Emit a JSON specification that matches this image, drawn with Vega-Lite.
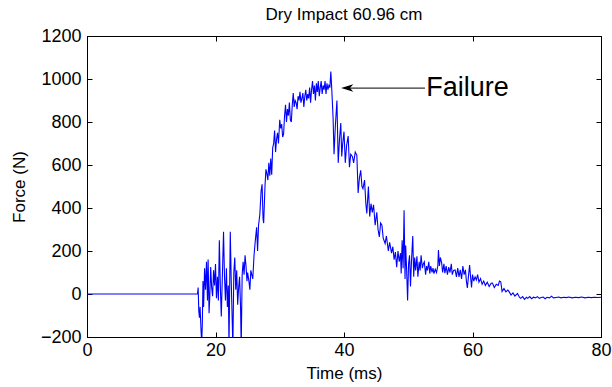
{
  "$schema": "https://vega.github.io/schema/vega-lite/v6.json",
  "width": 514,
  "height": 301,
  "autosize": "none",
  "padding": {"left": 87, "top": 36, "right": 11, "bottom": 50},
  "background": "white",
  "config": {
    "view": {"stroke": "black", "strokeWidth": 1},
    "font": "Liberation Sans",
    "axis": {
      "domainColor": "black",
      "tickColor": "black",
      "labelColor": "black",
      "titleColor": "black",
      "labelFont": "Liberation Sans",
      "titleFont": "Liberation Sans",
      "labelFontSize": 18,
      "titleFontSize": 17,
      "titleFontWeight": "normal",
      "grid": false,
      "tickSize": -5,
      "labelFlush": false,
      "format": "d"
    }
  },
  "title": {"text": "Dry Impact 60.96 cm", "fontSize": 17, "font": "Liberation Sans", "fontWeight": "normal", "color": "black", "offset": 3},
  "datasets": {
    "sig": [
      {"t": 0, "f": 0}, {"t": 17.2, "f": 0},
      {"t": 17.3, "f": 30}, {"t": 17.4, "f": -80}, {"t": 17.5, "f": -110}, {"t": 17.6, "f": -60}, {"t": 17.75, "f": -170}, {"t": 17.85, "f": -230}, {"t": 17.95, "f": -140},
      {"t": 18.05, "f": 60}, {"t": 18.15, "f": -60}, {"t": 18.3, "f": 120}, {"t": 18.45, "f": 20}, {"t": 18.6, "f": 150}, {"t": 18.75, "f": -30}, {"t": 18.85, "f": 160},
      {"t": 19.0, "f": -90}, {"t": 19.1, "f": -20}, {"t": 19.25, "f": 125}, {"t": 19.4, "f": 30}, {"t": 19.55, "f": -10}, {"t": 19.7, "f": 110}, {"t": 19.85, "f": 40},
      {"t": 20.0, "f": 140}, {"t": 20.15, "f": -20}, {"t": 20.3, "f": 80}, {"t": 20.45, "f": -30}, {"t": 20.6, "f": 250}, {"t": 20.75, "f": 40}, {"t": 20.9, "f": -105},
      {"t": 21.05, "f": 60}, {"t": 21.25, "f": 290}, {"t": 21.4, "f": 80}, {"t": 21.55, "f": -30}, {"t": 21.7, "f": 120}, {"t": 21.85, "f": -60},
      {"t": 22.0, "f": 40}, {"t": 22.1, "f": -250}, {"t": 22.3, "f": 290}, {"t": 22.45, "f": 60}, {"t": 22.6, "f": -120}, {"t": 22.7, "f": -250}, {"t": 22.85, "f": 100},
      {"t": 23.0, "f": 170}, {"t": 23.15, "f": 20}, {"t": 23.3, "f": 110}, {"t": 23.45, "f": -50}, {"t": 23.6, "f": 30}, {"t": 23.75, "f": 80}, {"t": 23.9, "f": -60},
      {"t": 24.0, "f": -250}, {"t": 24.15, "f": 90}, {"t": 24.3, "f": 150}, {"t": 24.45, "f": 90}, {"t": 24.6, "f": 180}, {"t": 24.75, "f": 130}, {"t": 24.9, "f": 60},
      {"t": 25.0, "f": 100}, {"t": 25.2, "f": 60}, {"t": 25.35, "f": 20}, {"t": 25.5, "f": 110}, {"t": 25.65, "f": 90}, {"t": 25.8, "f": 70},
      {"t": 26.0, "f": 180}, {"t": 26.2, "f": 250}, {"t": 26.4, "f": 310}, {"t": 26.55, "f": 200}, {"t": 26.7, "f": 320}, {"t": 26.9, "f": 370},
      {"t": 27.1, "f": 480}, {"t": 27.25, "f": 510}, {"t": 27.4, "f": 350}, {"t": 27.5, "f": 330}, {"t": 27.7, "f": 500}, {"t": 27.85, "f": 580},
      {"t": 28.0, "f": 560}, {"t": 28.15, "f": 530}, {"t": 28.3, "f": 610}, {"t": 28.45, "f": 550}, {"t": 28.6, "f": 630}, {"t": 28.75, "f": 555}, {"t": 28.9, "f": 680},
      {"t": 29.05, "f": 700}, {"t": 29.2, "f": 760}, {"t": 29.35, "f": 660}, {"t": 29.5, "f": 720}, {"t": 29.65, "f": 750}, {"t": 29.8, "f": 700},
      {"t": 30.0, "f": 810}, {"t": 30.15, "f": 770}, {"t": 30.3, "f": 790}, {"t": 30.45, "f": 730}, {"t": 30.6, "f": 745}, {"t": 30.75, "f": 830}, {"t": 30.9, "f": 880},
      {"t": 31.05, "f": 800}, {"t": 31.2, "f": 860}, {"t": 31.35, "f": 830}, {"t": 31.5, "f": 890}, {"t": 31.65, "f": 810}, {"t": 31.8, "f": 800}, {"t": 31.95, "f": 880},
      {"t": 32.1, "f": 935}, {"t": 32.25, "f": 870}, {"t": 32.4, "f": 900}, {"t": 32.55, "f": 890}, {"t": 32.7, "f": 860}, {"t": 32.85, "f": 920},
      {"t": 33.0, "f": 900}, {"t": 33.15, "f": 940}, {"t": 33.3, "f": 890}, {"t": 33.45, "f": 910}, {"t": 33.6, "f": 935}, {"t": 33.75, "f": 870}, {"t": 33.9, "f": 920},
      {"t": 34.05, "f": 950}, {"t": 34.2, "f": 900}, {"t": 34.35, "f": 930}, {"t": 34.5, "f": 910}, {"t": 34.65, "f": 960}, {"t": 34.8, "f": 890}, {"t": 34.95, "f": 950},
      {"t": 35.1, "f": 990}, {"t": 35.25, "f": 930}, {"t": 35.4, "f": 970}, {"t": 35.55, "f": 900}, {"t": 35.7, "f": 980}, {"t": 35.85, "f": 940},
      {"t": 36.0, "f": 990}, {"t": 36.15, "f": 920}, {"t": 36.3, "f": 960}, {"t": 36.45, "f": 990}, {"t": 36.6, "f": 930}, {"t": 36.75, "f": 970}, {"t": 36.9, "f": 950},
      {"t": 37.05, "f": 990}, {"t": 37.2, "f": 930}, {"t": 37.35, "f": 980}, {"t": 37.5, "f": 950}, {"t": 37.65, "f": 970}, {"t": 37.8, "f": 960}, {"t": 37.95, "f": 1035},
      {"t": 38.1, "f": 950}, {"t": 38.3, "f": 820}, {"t": 38.45, "f": 650}, {"t": 38.65, "f": 780}, {"t": 38.9, "f": 900},
      {"t": 39.1, "f": 610}, {"t": 39.3, "f": 720}, {"t": 39.5, "f": 795}, {"t": 39.65, "f": 640}, {"t": 39.8, "f": 700},
      {"t": 40.0, "f": 755}, {"t": 40.2, "f": 610}, {"t": 40.4, "f": 690}, {"t": 40.65, "f": 735}, {"t": 40.85, "f": 590},
      {"t": 41.05, "f": 650}, {"t": 41.3, "f": 640}, {"t": 41.5, "f": 610}, {"t": 41.75, "f": 660},
      {"t": 42.0, "f": 645}, {"t": 42.2, "f": 470}, {"t": 42.4, "f": 540}, {"t": 42.6, "f": 575}, {"t": 42.8, "f": 500}, {"t": 42.95, "f": 490},
      {"t": 43.2, "f": 530}, {"t": 43.4, "f": 420}, {"t": 43.55, "f": 375}, {"t": 43.8, "f": 500},
      {"t": 44.0, "f": 360}, {"t": 44.2, "f": 420}, {"t": 44.4, "f": 380}, {"t": 44.6, "f": 415}, {"t": 44.85, "f": 320},
      {"t": 45.1, "f": 380}, {"t": 45.3, "f": 300}, {"t": 45.5, "f": 265}, {"t": 45.7, "f": 330}, {"t": 45.9, "f": 320},
      {"t": 46.1, "f": 260}, {"t": 46.4, "f": 235}, {"t": 46.6, "f": 270}, {"t": 46.9, "f": 200},
      {"t": 47.1, "f": 240}, {"t": 47.4, "f": 190}, {"t": 47.6, "f": 220}, {"t": 47.8, "f": 160},
      {"t": 48.0, "f": 195}, {"t": 48.2, "f": 125}, {"t": 48.4, "f": 200}, {"t": 48.6, "f": 150}, {"t": 48.8, "f": 190}, {"t": 48.9, "f": 95},
      {"t": 49.05, "f": 250}, {"t": 49.2, "f": 120}, {"t": 49.35, "f": 390}, {"t": 49.5, "f": 70}, {"t": 49.6, "f": 225}, {"t": 49.75, "f": 110}, {"t": 49.9, "f": -30},
      {"t": 50.05, "f": 140}, {"t": 50.2, "f": 180}, {"t": 50.35, "f": 35}, {"t": 50.5, "f": 150}, {"t": 50.7, "f": 270}, {"t": 50.85, "f": 80},
      {"t": 51.0, "f": 170}, {"t": 51.15, "f": 110}, {"t": 51.35, "f": 175}, {"t": 51.5, "f": 80}, {"t": 51.7, "f": 150}, {"t": 51.85, "f": 110},
      {"t": 52.0, "f": 180}, {"t": 52.2, "f": 120}, {"t": 52.35, "f": 140}, {"t": 52.5, "f": 150}, {"t": 52.7, "f": 90}, {"t": 52.85, "f": 130},
      {"t": 53.0, "f": 110}, {"t": 53.2, "f": 150}, {"t": 53.35, "f": 95}, {"t": 53.5, "f": 130}, {"t": 53.7, "f": 100}, {"t": 53.85, "f": 120},
      {"t": 54.0, "f": 95}, {"t": 54.2, "f": 115}, {"t": 54.4, "f": 100}, {"t": 54.6, "f": 130}, {"t": 54.7, "f": 205}, {"t": 54.85, "f": 130},
      {"t": 55.0, "f": 170}, {"t": 55.2, "f": 145}, {"t": 55.35, "f": 100}, {"t": 55.55, "f": 140}, {"t": 55.7, "f": 97}, {"t": 55.9, "f": 130},
      {"t": 56.1, "f": 90}, {"t": 56.3, "f": 125}, {"t": 56.5, "f": 100}, {"t": 56.7, "f": 140}, {"t": 56.85, "f": 90},
      {"t": 57.05, "f": 110}, {"t": 57.3, "f": 112}, {"t": 57.5, "f": 80}, {"t": 57.7, "f": 120}, {"t": 57.9, "f": 80},
      {"t": 58.1, "f": 112}, {"t": 58.3, "f": 70}, {"t": 58.5, "f": 130}, {"t": 58.7, "f": 90}, {"t": 58.9, "f": 112},
      {"t": 59.05, "f": 60}, {"t": 59.2, "f": 28}, {"t": 59.4, "f": 90}, {"t": 59.55, "f": 135}, {"t": 59.7, "f": 80}, {"t": 59.85, "f": 30},
      {"t": 60.0, "f": 90}, {"t": 60.2, "f": 60}, {"t": 60.4, "f": 80}, {"t": 60.6, "f": 65}, {"t": 60.8, "f": 90},
      {"t": 61.0, "f": 55}, {"t": 61.25, "f": 72}, {"t": 61.5, "f": 45}, {"t": 61.75, "f": 60},
      {"t": 62.0, "f": 40}, {"t": 62.3, "f": 55}, {"t": 62.6, "f": 35}, {"t": 62.9, "f": 50},
      {"t": 63.1, "f": 51}, {"t": 63.4, "f": 30}, {"t": 63.7, "f": 45},
      {"t": 64.0, "f": 40}, {"t": 64.2, "f": 60}, {"t": 64.4, "f": 57}, {"t": 64.6, "f": 12}, {"t": 64.9, "f": 25},
      {"t": 65.2, "f": 10}, {"t": 65.5, "f": 18}, {"t": 65.7, "f": 11},
      {"t": 66.0, "f": -5}, {"t": 66.3, "f": 5}, {"t": 66.6, "f": -10},
      {"t": 67.0, "f": 3}, {"t": 67.3, "f": -15}, {"t": 67.5, "f": -20}, {"t": 67.8, "f": -12},
      {"t": 68.1, "f": -25}, {"t": 68.4, "f": -15}, {"t": 68.6, "f": -20}, {"t": 68.9, "f": -12},
      {"t": 69.2, "f": -22}, {"t": 69.5, "f": -15}, {"t": 69.8, "f": -18},
      {"t": 70.1, "f": -12}, {"t": 70.4, "f": -20}, {"t": 70.7, "f": -16},
      {"t": 71.0, "f": -14}, {"t": 71.3, "f": -22}, {"t": 71.6, "f": -15},
      {"t": 72.0, "f": -18}, {"t": 72.3, "f": -10}, {"t": 72.6, "f": -18},
      {"t": 73.0, "f": -16}, {"t": 73.4, "f": -14}, {"t": 73.8, "f": -18},
      {"t": 74.2, "f": -15}, {"t": 74.6, "f": -17}, {"t": 75.0, "f": -14}, {"t": 75.5, "f": -18},
      {"t": 76.0, "f": -15}, {"t": 76.5, "f": -17}, {"t": 77.0, "f": -14}, {"t": 77.5, "f": -18},
      {"t": 78.0, "f": -15}, {"t": 78.5, "f": -17}, {"t": 79.0, "f": -15}, {"t": 79.5, "f": -16}, {"t": 80.0, "f": -15}
    ],
    "arrow": [{"t1": 40.5, "t2": 52.6, "f": 958}],
    "label": [{"t": 52.8, "f": 958, "txt": "Failure"}]
  },
  "layer": [
    {
      "data": {"name": "sig"},
      "mark": {"type": "line", "color": "#0000ff", "strokeWidth": 1.1, "clip": true},
      "encoding": {
        "x": {"field": "t", "type": "quantitative", "scale": {"domain": [0, 80], "nice": false},
              "axis": {"orient": "bottom", "values": [0, 20, 40, 60, 80], "title": "Time (ms)", "labelPadding": 9, "titlePadding": 6}},
        "y": {"field": "f", "type": "quantitative", "scale": {"domain": [-200, 1200], "nice": false},
              "axis": {"orient": "left", "values": [-200, 0, 200, 400, 600, 800, 1000, 1200], "title": "Force (N)", "labelPadding": 11, "titlePadding": 12}}
      }
    },
    {
      "data": {"name": "label"},
      "mark": {"type": "point", "opacity": 0},
      "encoding": {
        "x": {"field": "t", "type": "quantitative", "scale": {"domain": [0, 80], "nice": false},
              "axis": {"orient": "top", "values": [0, 20, 40, 60, 80], "labels": false, "title": null}},
        "y": {"field": "f", "type": "quantitative", "scale": {"domain": [-200, 1200], "nice": false},
              "axis": {"orient": "right", "values": [-200, 0, 200, 400, 600, 800, 1000, 1200], "labels": false, "title": null}}
      }
    },
    {
      "data": {"name": "arrow"},
      "mark": {"type": "rule", "color": "#333333", "strokeWidth": 1.3},
      "encoding": {
        "x": {"field": "t1", "type": "quantitative", "axis": null},
        "x2": {"field": "t2"},
        "y": {"field": "f", "type": "quantitative", "axis": null}
      }
    },
    {
      "data": {"name": "arrow"},
      "mark": {"type": "point", "filled": true, "color": "black", "opacity": 1, "size": 150,
               "shape": "M -1 0 L 1 -0.6 L 0.45 0 L 1 0.6 Z"},
      "encoding": {
        "x": {"field": "t1", "type": "quantitative", "axis": null},
        "y": {"field": "f", "type": "quantitative", "axis": null}
      }
    },
    {
      "data": {"name": "label"},
      "mark": {"type": "text", "align": "left", "baseline": "middle", "fontSize": 27, "font": "Liberation Sans", "color": "black"},
      "encoding": {
        "x": {"field": "t", "type": "quantitative", "axis": null},
        "y": {"field": "f", "type": "quantitative", "axis": null},
        "text": {"field": "txt"}
      }
    }
  ],
  "resolve": {"axis": {"x": "independent", "y": "independent"}}
}
